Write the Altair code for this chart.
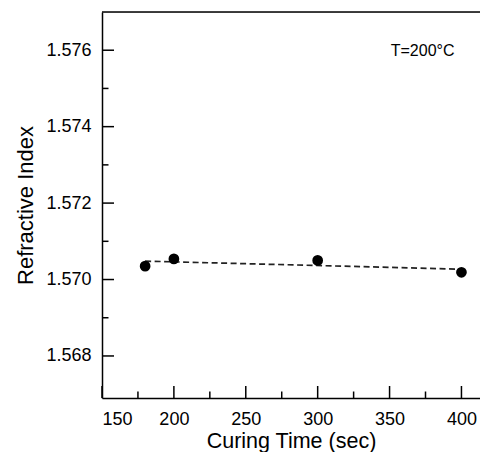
import altair as alt
import pandas as pd

# data
time_sec = [180, 200, 300, 400]
refr_index = [1.57035, 1.57054, 1.57050, 1.57019]

x_major = [150, 200, 250, 300, 350, 400]
x_minor = [175, 225, 275, 325, 375]
y_major = [1.568, 1.570, 1.572, 1.574, 1.576]
y_minor = [1.569, 1.571, 1.573, 1.575]

annot_x = [373]
annot_y = [1.57598]
annot_text = ["T=200°C"]

W, H = 378, 386
FONT = "Liberation Sans"

pts = pd.DataFrame({"t": time_sec, "n": refr_index})

xs = alt.Scale(domain=[150, 412.9], nice=False, zero=False)
ys = alt.Scale(domain=[1.5669, 1.577], nice=False, zero=False)

xaxis = alt.Axis(values=x_major, ticks=False, grid=False, domainColor="black", domainWidth=1.5,
                 labelFont=FONT, labelFontSize=18, labelColor="black", labelPadding=12,
                 title="Curing Time (sec)", titleFont=FONT, titleFontSize=21.5, titleFontWeight="normal",
                 titleColor="black", titleBaseline="alphabetic", titleY=49.5, format="d")
yaxis = alt.Axis(values=y_major, ticks=False, grid=False, domainColor="black", domainWidth=1.5,
                 labelFont=FONT, labelFontSize=18, labelColor="black", labelPadding=11,
                 title="Refractive Index", titleFont=FONT, titleFontSize=22, titleFontWeight="normal",
                 titleColor="black", titleBaseline="alphabetic", titleX=-70, format=".3f")

base = alt.Chart(pts)

line = base.mark_line(color="#222222", strokeDash=[6, 3.5], strokeWidth=1.7).transform_regression(
    "t", "n"
).encode(x=alt.X("t:Q", scale=xs, axis=xaxis), y=alt.Y("n:Q", scale=ys, axis=yaxis))

points = base.mark_circle(color="black", size=115, opacity=1).encode(
    x=alt.X("t:Q", scale=xs), y=alt.Y("n:Q", scale=ys)
)

xmaj = alt.Chart(pd.DataFrame({"v": x_major})).mark_rule(color="black", strokeWidth=1.5).encode(
    x=alt.X("v:Q", scale=xs), y=alt.value(H), y2=alt.value(H - 12)
)
xmin = alt.Chart(pd.DataFrame({"v": x_minor})).mark_rule(color="black", strokeWidth=1.5).encode(
    x=alt.X("v:Q", scale=xs), y=alt.value(H), y2=alt.value(H - 6.5)
)
ymaj = alt.Chart(pd.DataFrame({"v": y_major})).mark_rule(color="black", strokeWidth=1.5).encode(
    y=alt.Y("v:Q", scale=ys), x=alt.value(0), x2=alt.value(12)
)
ymin = alt.Chart(pd.DataFrame({"v": y_minor})).mark_rule(color="black", strokeWidth=1.5).encode(
    y=alt.Y("v:Q", scale=ys), x=alt.value(0), x2=alt.value(6.5)
)
top = alt.Chart(pd.DataFrame({"v": [0]})).mark_rule(color="black", strokeWidth=1.5).encode(
    y=alt.value(0), x=alt.value(0), x2=alt.value(W)
)

annot = alt.Chart(pd.DataFrame({"x": annot_x, "y": annot_y, "s": annot_text})).mark_text(
    font=FONT, fontSize=16, color="black", align="center", baseline="middle"
).encode(x=alt.X("x:Q", scale=xs), y=alt.Y("y:Q", scale=ys), text="s:N")

chart = alt.layer(line, points, xmaj, xmin, ymaj, ymin, top, annot).properties(
    width=W, height=H,
    autosize=alt.AutoSizeParams(type="none"),
    padding={"left": 94, "top": 4, "right": 0, "bottom": 54},
).configure_view(stroke=None).configure(background="white")

chart.save("out.html", embed_options={"renderer": "svg", "actions": False})
